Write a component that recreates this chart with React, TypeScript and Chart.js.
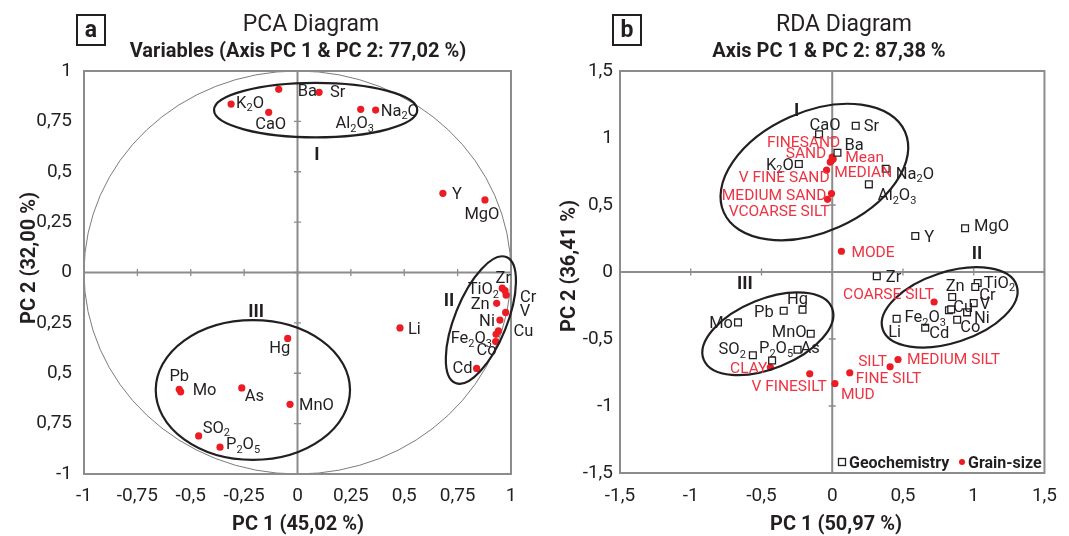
import { useEffect, useRef } from 'react';
import { Chart, registerables } from 'chart.js';

Chart.register(...registerables);

const FONT = 'Roboto, "Open Sans", "DejaVu Sans", sans-serif';
const INK = '#231f20';
const RED = '#ec1c24';
const RED_TEXT = '#ee3342';
const AXIS_GREY = '#8c8c8c';

// ---------------- Panel a : PCA ----------------
const pcaVariables = ['K₂O', 'Ba', 'Sr', 'CaO', 'Al₂O₃', 'Na₂O', 'Y', 'MgO', 'Zr', 'TiO₂', 'Cr', 'Zn', 'V', 'Ni', 'Cu', 'Fe₂O₃', 'Co', 'Cd', 'Li', 'Hg', 'Pb', 'Mo', 'As', 'MnO', 'SO₂', 'P₂O₅'];
const pcaPC1 = [-0.311, -0.088, 0.101, -0.135, 0.296, 0.366, 0.681, 0.878, 0.959, 0.972, 0.977, 0.933, 0.975, 0.948, 0.941, 0.930, 0.928, 0.839, 0.480, -0.046, -0.554, -0.547, -0.261, -0.035, -0.463, -0.363];
const pcaPC2 = [0.836, 0.909, 0.894, 0.795, 0.810, 0.806, 0.393, 0.360, -0.078, -0.090, -0.112, -0.153, -0.198, -0.236, -0.290, -0.307, -0.343, -0.476, -0.275, -0.327, -0.580, -0.592, -0.573, -0.654, -0.811, -0.867];
const pcaTickValues = [-1, -0.75, -0.5, -0.25, 0, 0.25, 0.5, 0.75, 1];
const pcaXTickLabels = ['-1', '-0,75', '-0,5', '-0,25', '0', '0,25', '0,5', '0,75', '1'];
const pcaYTickLabels = ['-1', '0,75', '0,5', '0,25', '0', '0,25', '0,5', '0,75', '1'];
const pcaGroupNames = ['I', 'II', 'III'];
const pcaGroupPC1 = [0.091, 0.71, -0.194];
const pcaGroupPC2 = [0.588, -0.136, -0.191];
const pcaEnvelopeCX = [0.085, 0.859, -0.209];
const pcaEnvelopeCY = [0.806, -0.236, -0.583];
const pcaEnvelopeRX = [0.476, 0.122, 0.455];
const pcaEnvelopeRY = [0.135, 0.337, 0.347];
const pcaEnvelopeTilt = [0, 22, 0];

// ---------------- Panel b : RDA ----------------
const rdaGeoVariables = ['CaO', 'Sr', 'Ba', 'K₂O', 'Na₂O', 'Al₂O₃', 'Y', 'MgO', 'Zr', 'Zn', 'TiO₂', 'Cr', 'Fe₂O₃', 'Cu', 'V', 'Ni', 'Co', 'Cd', 'Li', 'Hg', 'Pb', 'Mo', 'MnO', 'As', 'SO₂', 'P₂O₅'];
const rdaGeoPC1 = [-0.093, 0.166, 0.037, -0.236, 0.378, 0.259, 0.587, 0.939, 0.315, 0.848, 1.028, 1.011, 0.825, 0.841, 1.000, 0.953, 0.883, 0.657, 0.455, -0.210, -0.343, -0.666, -0.152, -0.245, -0.561, -0.425];
const rdaGeoPC2 = [1.028, 1.092, 0.890, 0.806, 0.770, 0.654, 0.269, 0.327, -0.032, -0.187, -0.082, -0.112, -0.286, -0.279, -0.232, -0.301, -0.356, -0.416, -0.349, -0.281, -0.289, -0.376, -0.461, -0.580, -0.621, -0.660];
const rdaGrainVariables = ['FINESAND', 'SAND', 'Mean', 'MEDIAN', 'V FINE SAND', 'MEDIUM SAND', 'VCOARSE SILT', 'MODE', 'COARSE SILT', 'SILT', 'MEDIUM SILT', 'FINE SILT', 'MUD', 'V FINESILT', 'CLAY'];
const rdaGrainPC1 = [0.000, -0.007, 0.007, -0.014, -0.040, -0.005, -0.033, 0.065, 0.720, 0.409, 0.465, 0.124, 0.019, -0.159, -0.437];
const rdaGrainPC2 = [0.858, 0.828, 0.843, 0.820, 0.761, 0.586, 0.542, 0.155, -0.224, -0.708, -0.653, -0.752, -0.832, -0.760, -0.711];
const rdaTickValues = [-1.5, -1, -0.5, 0, 0.5, 1, 1.5];
const rdaTickLabels = ['-1,5', '-1', '-0,5', '0', '0,5', '1', '1,5'];
const rdaGroupNames = ['I', 'II', 'III'];
const rdaGroupPC1 = [-0.252, 1.023, -0.617];
const rdaGroupPC2 = [1.209, 0.144, -0.081];
const rdaEnvelopeCX = [-0.126, 0.83, -0.455];
const rdaEnvelopeCY = [0.746, -0.264, -0.461];
const rdaEnvelopeRX = [0.701, 0.498, 0.489];
const rdaEnvelopeRY = [0.449, 0.264, 0.26];
const rdaEnvelopeTilt = [-24, -18, -22];

// ---------------- label placement (pixel offsets from the mark) ----------------
type Place = [number, number, CanvasTextAlign];
const pcaLabelPlace: Place[] = [
  [5, -2, 'left'], [19, 1, 'left'], [11, -1, 'left'], [2, 11, 'center'], [-6, 13, 'center'], [5, 0, 'left'],
  [9, 0, 'left'], [-3, 13, 'center'], [1, -11, 'center'], [-6, -2, 'right'], [14, 1, 'left'], [-7, 0, 'right'],
  [14, -2, 'left'], [-5, 0, 'right'], [15, -1, 'left'], [-4, 3, 'right'], [-9, 8, 'center'], [-4, -1, 'right'],
  [8, 0, 'left'], [-8, 9, 'center'], [0, -14, 'center'], [12, -3, 'left'], [3, 7, 'left'], [9, 0, 'left'],
  [4, -9, 'left'], [6, -4, 'left'],
];
const rdaGeoLabelPlace: Place[] = [
  [6, -10, 'center'], [8, 0, 'left'], [7, -9, 'left'], [-5, 0, 'right'], [10, 4, 'left'], [9, 10, 'left'],
  [9, 0, 'left'], [9, -3, 'left'], [9, 0, 'left'], [3, -12, 'center'], [6, -1, 'left'], [4, 7, 'left'],
  [-3, 6, 'right'], [2, -3, 'left'], [6, 0, 'left'], [7, 5, 'left'], [3, 7, 'left'], [4, 4, 'left'],
  [-2, 12, 'center'], [-5, -11, 'center'], [-10, 0, 'right'], [-5, 0, 'right'], [-4, -3, 'right'], [3, -2, 'left'],
  [-7, -7, 'right'], [4, -13, 'center'],
];
const rdaGrainLabelPlace: Place[] = [
  [8, -15, 'right'], [-5, -8, 'right'], [12, -2, 'left'], [4, 9, 'left'], [3, 7, 'right'], [-5, 1, 'right'],
  [2, 11, 'right'], [10, 0, 'left'], [0, -8, 'right'], [-3, -6, 'right'], [9, -1, 'left'], [6, 5, 'left'],
  [6, 10, 'left'], [17, 12, 'right'], [-3, 0, 'right'],
];

// ---------------- drawing helpers ----------------
function drawRich(ctx: CanvasRenderingContext2D, text: string, x: number, cy: number, size: number,
  weight: string, color: string, align: CanvasTextAlign) {
  const runs: { t: string; sub: boolean; w: number }[] = [];
  for (const ch of text) {
    const code = ch.charCodeAt(0);
    const sub = code >= 0x2080 && code <= 0x2089;
    const c = sub ? String.fromCharCode(code - 0x2080 + 48) : ch;
    const last = runs[runs.length - 1];
    if (last && last.sub === sub) last.t += c; else runs.push({ t: c, sub, w: 0 });
  }
  const fontFor = (sub: boolean) => `${weight} ${sub ? Math.round(size * 0.68) : size}px ${FONT}`;
  let total = 0;
  for (const r of runs) { ctx.font = fontFor(r.sub); r.w = ctx.measureText(r.t).width; total += r.w; }
  let sx = align === 'left' ? x : align === 'right' ? x - total : x - total / 2;
  const base = cy + size * 0.35;
  ctx.fillStyle = color;
  ctx.textAlign = 'left';
  ctx.textBaseline = 'alphabetic';
  for (const r of runs) {
    ctx.font = fontFor(r.sub);
    ctx.fillText(r.t, sx, r.sub ? base + size * 0.22 : base);
    sx += r.w;
  }
}

interface LabelSet { names: string[]; xs: number[]; ys: number[]; places: Place[]; color: string; size: number; }
interface PanelSpec {
  letter: string; title: string; subtitle: string; xTitle: string; yTitle: string;
  titleCX: number; subtitleCX: number; xTitleCX: number; yTitleCY: number;
  min: number; max: number; tickValues: number[]; xTickLabels: string[]; yTickLabels: string[];
  padding: { left: number; right: number; top: number; bottom: number };
  yAxisWidth: number; xAxisHeight: number; yTickPad: number; xTickPad: number;
  circle: boolean;
  env: { cx: number[]; cy: number[]; rx: number[]; ry: number[]; tilt: number[] };
  groups: { names: string[]; xs: number[]; ys: number[] };
  labelSets: LabelSet[];
  legend: boolean;
  datasets: any[];
}

function makeConfig(p: PanelSpec): any {
  const decor = {
    id: 'decor',
    beforeDatasetsDraw(chart: any) {
      const { ctx, chartArea: a } = chart;
      const xs = chart.scales.x, ys = chart.scales.y;
      const x0 = xs.getPixelForValue(0), y0 = ys.getPixelForValue(0);
      ctx.save();
      if (p.circle) {
        const rx = xs.getPixelForValue(1) - x0, ry = y0 - ys.getPixelForValue(1);
        ctx.beginPath();
        ctx.ellipse(x0, y0, rx, ry, 0, 0, Math.PI * 2);
        ctx.strokeStyle = '#5a5a5a';
        ctx.lineWidth = 0.8;
        ctx.stroke();
      }
      ctx.strokeStyle = AXIS_GREY;
      ctx.lineWidth = 2;
      ctx.beginPath();
      ctx.moveTo(x0, a.top); ctx.lineTo(x0, a.bottom);
      ctx.moveTo(a.left, y0); ctx.lineTo(a.right, y0);
      ctx.stroke();
      ctx.lineWidth = 1.3;
      ctx.beginPath();
      for (const t of xs.ticks) {
        const px = xs.getPixelForValue(t.value);
        ctx.moveTo(px, y0 - 3.5); ctx.lineTo(px, y0 + 3.5);
      }
      for (const t of ys.ticks) {
        const py = ys.getPixelForValue(t.value);
        ctx.moveTo(x0 - 3.5, py); ctx.lineTo(x0 + 3.5, py);
      }
      ctx.stroke();
      ctx.lineWidth = 2;
      ctx.strokeRect(a.left, a.top, a.right - a.left, a.bottom - a.top);
      ctx.restore();
    },
    afterDatasetsDraw(chart: any) {
      const { ctx } = chart;
      const xs = chart.scales.x, ys = chart.scales.y;
      ctx.save();
      ctx.strokeStyle = INK;
      ctx.lineWidth = 2.2;
      for (let i = 0; i < p.env.cx.length; i++) {
        const cx = xs.getPixelForValue(p.env.cx[i]);
        const cy = ys.getPixelForValue(p.env.cy[i]);
        const rx = xs.getPixelForValue(p.env.cx[i] + p.env.rx[i]) - cx;
        const ry = cy - ys.getPixelForValue(p.env.cy[i] + p.env.ry[i]);
        ctx.beginPath();
        ctx.ellipse(cx, cy, rx, ry, (p.env.tilt[i] * Math.PI) / 180, 0, Math.PI * 2);
        ctx.stroke();
      }
      for (let i = 0; i < p.groups.names.length; i++) {
        drawRich(ctx, p.groups.names[i], xs.getPixelForValue(p.groups.xs[i]), ys.getPixelForValue(p.groups.ys[i]),
          18, 'bold', INK, 'center');
      }
      for (const set of p.labelSets) {
        for (let i = 0; i < set.names.length; i++) {
          const px = xs.getPixelForValue(set.xs[i]);
          const py = ys.getPixelForValue(set.ys[i]);
          const [dx, dy, al] = set.places[i];
          drawRich(ctx, set.names[i], px + dx, py + dy, set.size, 'normal', set.color, al);
        }
      }
      if (p.legend) {
        const lx = 302, ly = 462;
        ctx.fillStyle = '#fff';
        ctx.strokeStyle = INK;
        ctx.lineWidth = 1.3;
        ctx.fillRect(lx - 3.5, ly - 3.5, 7, 7);
        ctx.strokeRect(lx - 3.5, ly - 3.5, 7, 7);
        drawRich(ctx, 'Geochemistry', lx + 7, ly, 16, 'bold', INK, 'left');
        ctx.beginPath();
        ctx.arc(422, ly, 3, 0, Math.PI * 2);
        ctx.fillStyle = RED;
        ctx.fill();
        drawRich(ctx, 'Grain-size', 428, ly, 16, 'bold', INK, 'left');
      }
      ctx.restore();
    },
    afterDraw(chart: any) {
      const { ctx } = chart;
      ctx.save();
      drawRich(ctx, p.title, p.titleCX, 23, 23, 'normal', INK, 'center');
      drawRich(ctx, p.subtitle, p.subtitleCX, 50, 20, 'bold', INK, 'center');
      drawRich(ctx, p.xTitle, p.xTitleCX, 523, 20, 'bold', INK, 'center');
      ctx.translate(28, p.yTitleCY);
      ctx.rotate(-Math.PI / 2);
      drawRich(ctx, p.yTitle, 0, 0, 20, 'bold', INK, 'center');
      ctx.setTransform(1, 0, 0, 1, 0, 0);
      const bx = p.padding.left + p.yAxisWidth - 7;
      ctx.strokeStyle = INK;
      ctx.lineWidth = 2;
      ctx.strokeRect(bx, 15, 28, 30);
      drawRich(ctx, p.letter, bx + 14, 29, 23, 'bold', INK, 'center');
      ctx.restore();
    },
  };

  const tickFont = { family: FONT, size: 19 };
  return {
    type: 'scatter',
    data: { datasets: p.datasets },
    options: {
      animation: false,
      responsive: false,
      devicePixelRatio: 1,
      events: [],
      layout: { padding: p.padding },
      plugins: { legend: { display: false }, tooltip: { enabled: false }, title: { display: false } },
      scales: {
        x: {
          type: 'linear', position: 'bottom', min: p.min, max: p.max,
          grid: { display: false, drawTicks: false }, border: { display: false },
          afterBuildTicks: (s: any) => { s.ticks = p.tickValues.map((v) => ({ value: v })); },
          afterFit: (s: any) => { s.height = p.xAxisHeight; },
          ticks: {
            autoSkip: false, maxRotation: 0, minRotation: 0, padding: p.xTickPad, font: tickFont, color: INK,
            callback: (_v: any, i: number) => p.xTickLabels[i],
          },
        },
        y: {
          type: 'linear', position: 'left', min: p.min, max: p.max,
          grid: { display: false, drawTicks: false }, border: { display: false },
          afterBuildTicks: (s: any) => { s.ticks = p.tickValues.map((v) => ({ value: v })); },
          afterFit: (s: any) => { s.width = p.yAxisWidth; },
          ticks: {
            autoSkip: false, padding: p.yTickPad, font: tickFont, color: INK,
            callback: (_v: any, i: number) => p.yTickLabels[i],
          },
        },
      },
    },
    plugins: [decor],
  };
}

const pcaSpec: PanelSpec = {
  letter: 'a', title: 'PCA Diagram', subtitle: 'Variables (Axis PC 1 & PC 2: 77,02 %)',
  xTitle: 'PC 1 (45,02 %)', yTitle: 'PC 2 (32,00 %)',
  titleCX: 311, subtitleCX: 298, xTitleCX: 298, yTitleCY: 258,
  min: -1, max: 1, tickValues: pcaTickValues, xTickLabels: pcaXTickLabels, yTickLabels: pcaYTickLabels,
  padding: { left: 0, right: 29, top: 71, bottom: 0 },
  yAxisWidth: 84, xAxisHeight: 62, yTickPad: 12, xTickPad: 11,
  circle: true,
  env: { cx: pcaEnvelopeCX, cy: pcaEnvelopeCY, rx: pcaEnvelopeRX, ry: pcaEnvelopeRY, tilt: pcaEnvelopeTilt },
  groups: { names: pcaGroupNames, xs: pcaGroupPC1, ys: pcaGroupPC2 },
  labelSets: [{ names: pcaVariables, xs: pcaPC1, ys: pcaPC2, places: pcaLabelPlace, color: INK, size: 16.5 }],
  legend: false,
  datasets: [{
    label: 'Variables',
    data: pcaPC1.map((x, i) => ({ x, y: pcaPC2[i] })),
    pointRadius: 3.6, pointBackgroundColor: RED, pointBorderWidth: 0, showLine: false,
  }],
};

const rdaSpec: PanelSpec = {
  letter: 'b', title: 'RDA Diagram', subtitle: 'Axis PC 1 & PC 2: 87,38 %',
  xTitle: 'PC 1 (50,97 %)', yTitle: 'PC 2 (36,41 %)',
  titleCX: 304, subtitleCX: 289, xTitleCX: 296, yTitleCY: 266,
  min: -1.5, max: 1.5, tickValues: rdaTickValues, xTickLabels: rdaTickLabels, yTickLabels: rdaTickLabels,
  padding: { left: 0, right: 20, top: 71, bottom: 0 },
  yAxisWidth: 80, xAxisHeight: 63, yTickPad: 7, xTickPad: 12,
  circle: false,
  env: { cx: rdaEnvelopeCX, cy: rdaEnvelopeCY, rx: rdaEnvelopeRX, ry: rdaEnvelopeRY, tilt: rdaEnvelopeTilt },
  groups: { names: rdaGroupNames, xs: rdaGroupPC1, ys: rdaGroupPC2 },
  labelSets: [
    { names: rdaGeoVariables, xs: rdaGeoPC1, ys: rdaGeoPC2, places: rdaGeoLabelPlace, color: INK, size: 16.5 },
    { names: rdaGrainVariables, xs: rdaGrainPC1, ys: rdaGrainPC2, places: rdaGrainLabelPlace, color: RED_TEXT, size: 15.5 },
  ],
  legend: true,
  datasets: [
    {
      label: 'Geochemistry',
      data: rdaGeoPC1.map((x, i) => ({ x, y: rdaGeoPC2[i] })),
      pointStyle: 'rect', pointRadius: 4.8, pointBackgroundColor: '#ffffff', pointBorderColor: INK,
      pointBorderWidth: 1.3, showLine: false,
    },
    {
      label: 'Grain-size',
      data: rdaGrainPC1.map((x, i) => ({ x, y: rdaGrainPC2[i] })),
      pointRadius: 3.6, pointBackgroundColor: RED, pointBorderWidth: 0, showLine: false,
    },
  ],
};

function Panel({ spec, left, width }: { spec: PanelSpec; left: number; width: number }) {
  const ref = useRef<HTMLCanvasElement>(null);
  useEffect(() => {
    const chart = new Chart(ref.current as HTMLCanvasElement, makeConfig(spec));
    return () => chart.destroy();
  }, [spec]);
  return (
    <canvas ref={ref} width={width} height={536}
      style={{ position: 'absolute', left, top: 0, width, height: 536, display: 'block' }} />
  );
}

export default function App() {
  return (
    <div style={{ position: 'fixed', left: 0, top: 0, width: 1069, height: 536, background: '#ffffff', overflow: 'hidden' }}>
      <Panel spec={pcaSpec} left={0} width={540} />
      <Panel spec={rdaSpec} left={540} width={529} />
    </div>
  );
}
